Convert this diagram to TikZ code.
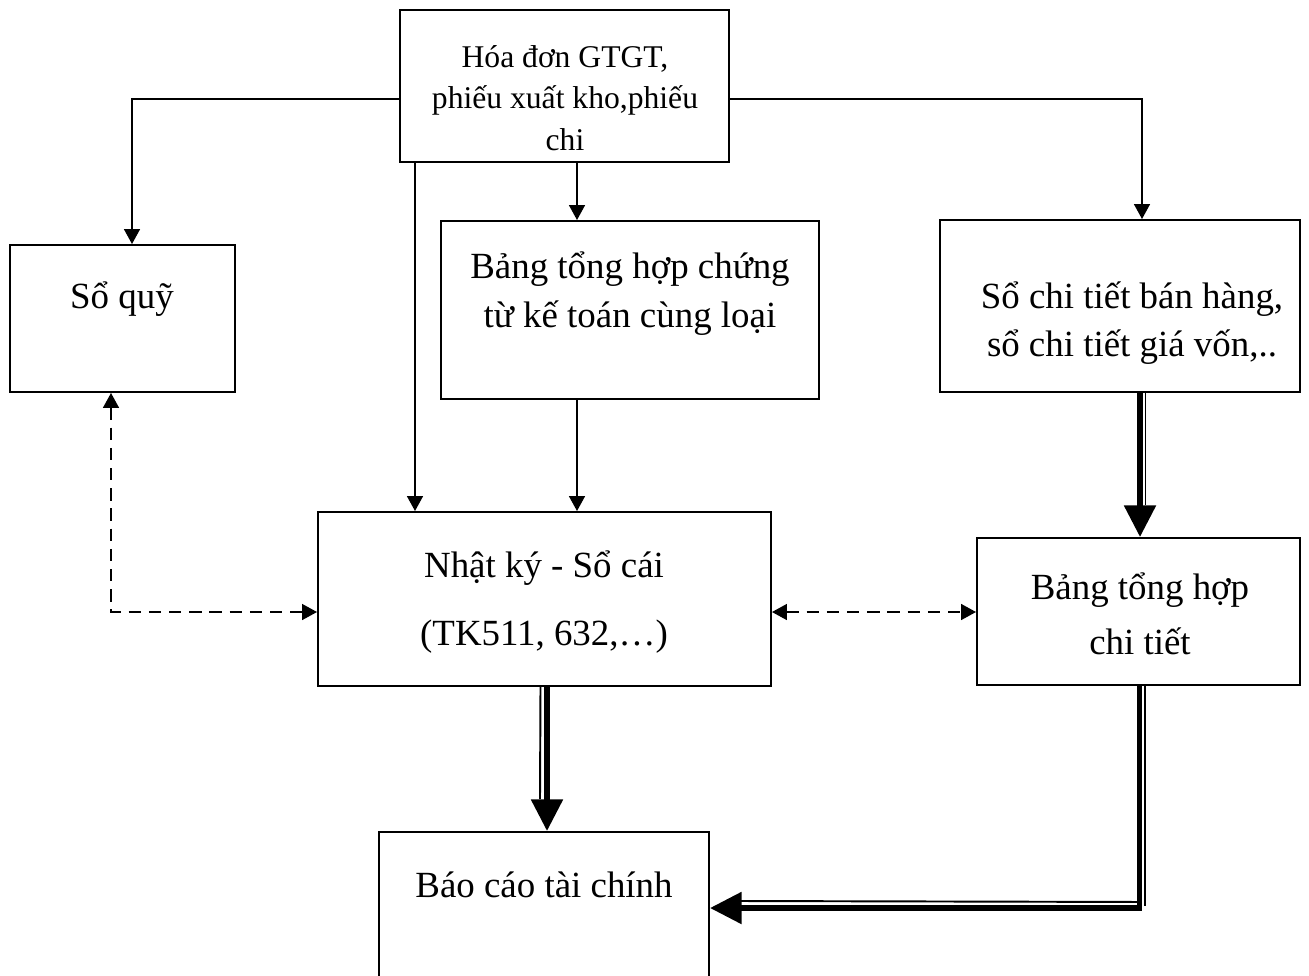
\documentclass[tikz,border=0pt]{standalone}
\usepackage{fontspec}
\setmainfont{Liberation Serif}
\usetikzlibrary{arrows.meta}

\begin{document}
\begin{tikzpicture}[x=0.02cm,y=-0.02cm,line width=1.1pt,
	box/.style n args={2}{draw,rectangle,inner sep=0pt,minimum width=#1*0.02cm,minimum height=#2*0.02cm},
	txt/.style={align=center,inner sep=0pt,font=\fontsize{21}{28}\selectfont},
	arr/.style={-{Triangle[length=8.5pt,width=9pt]}},
	dsh/.style={dash pattern=on 7pt off 4.5pt,{Triangle[length=8.5pt,width=9pt]}-{Triangle[length=8.5pt,width=9pt]}},
	thk/.style={line width=3.4pt,-{Triangle[length=18pt,width=17.5pt]}},
	thn/.style={line width=1.1pt}]
			\clip (0,0) rectangle (1309,975);
			% boxes
			\node[box={329}{152}] (hd) at (564.5,86) {};
			\node[box={225}{147}] (sq) at (122.5,318.5) {};
			\node[box={378}{178}] (bth) at (630,310) {};
			\node[box={360}{172}] (sct) at (1120,306) {};
			\node[box={453}{174}] (nk) at (544.5,599) {};
			\node[box={323}{147}] (btct) at (1138.5,611.5) {};
			\node[box={330}{168}] (bc) at (544,916) {};
			% texts
			\node[txt,font=\fontsize{18}{23.8}\selectfont] (hdt) at (565,98) {Hóa đơn GTGT,\\phiếu xuất kho,phiếu\\chi};
			\node[txt] (sqt) at (122,299) {Sổ quỹ};
			\node[txt,font=\fontsize{21}{27.8}\selectfont] (btht) at (630,294) {Bảng tổng hợp chứng\\từ kế toán cùng loại};
			\node[txt,font=\fontsize{21}{27.2}\selectfont] (sctt) at (1132,323) {Sổ chi tiết bán hàng,\\sổ chi tiết giá vốn,..};
			\node[txt,font=\fontsize{21}{39}\selectfont] (nkt) at (544,602) {Nhật ký - Sổ cái\\(TK511, 632,…)};
			\node[txt,font=\fontsize{21}{31}\selectfont] (btctt) at (1140,614) {Bảng tổng hợp\\chi tiết};
			\node[txt] (bct) at (544,885) {Báo cáo tài chính};
			% thin arrows
			\draw[arr] ([shift={(0,13)}]hd.west) -| ([shift={(9.5,0)}]sq.north);
			\draw[arr] ([shift={(0,13)}]hd.east) -| ([shift={(22,0)}]sct.north);
			\draw[arr] ([shift={(-149.5,0)}]hd.south) -- ([shift={(-149.5,0)}]hd.south |- nk.north);
			\draw[arr] ([shift={(12.5,0)}]hd.south) -- ([shift={(12.5,0)}]hd.south |- bth.north);
			\draw[arr] ([shift={(-53,0)}]bth.south) -- ([shift={(-53,0)}]bth.south |- nk.north);
			% dashed arrows
			\draw[dsh] ([shift={(-11.5,0)}]sq.south) |- ([shift={(0,13)}]nk.west);
			\draw[dsh] ([shift={(0,13)}]nk.east) -- ([shift={(0,13)}]nk.east -| btct.west);
			% double arrows
			\draw[thk] ([shift={(20,0)}]sct.south) -- ([shift={(20,0)}]sct.south |- btct.north);
			\draw[thn] ([shift={(25.5,0)}]sct.south) -- ([shift={(7,-32)}]btct.north);
			\draw[thk] ([shift={(2.5,0)}]nk.south) -- ([shift={(2.5,0)}]nk.south |- bc.north);
			\draw[thn] ([shift={(-4,0)}]nk.south) -- ([shift={(-4,-32)}]bc.north);
			\draw[thk] ([shift={(1,0)}]btct.south) |- ([shift={(0,-8)}]bc.east);
			\draw[thn] ([shift={(6.5,0)}]btct.south) -- ([shift={(6.5,220)}]btct.south);
			\draw[thn] ([shift={(-0.5,216)}]btct.south) -- ([shift={(31,-15)}]bc.east);
\end{tikzpicture}
\end{document}
